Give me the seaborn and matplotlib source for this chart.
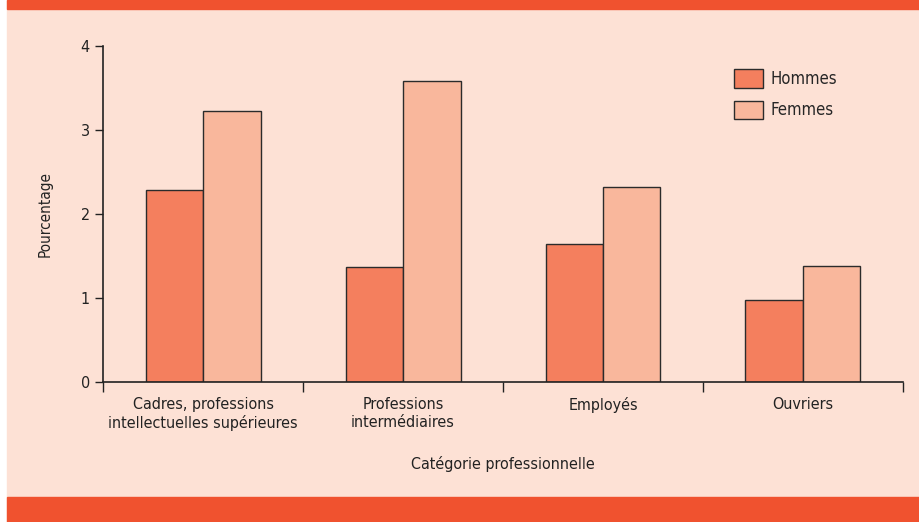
import pandas as pd
import matplotlib.pyplot as plt
import seaborn as sns
from matplotlib.patches import Rectangle

# data
categories = ['Cadres, professions\nintellectuelles supérieures',
              'Professions\nintermédiaires', 'Employés', 'Ouvriers']
hommes = [2.28, 1.37, 1.64, 0.98]
femmes = [3.23, 3.58, 2.32, 1.38]
series = ['Hommes', 'Femmes']

df = pd.DataFrame({
    'categorie': categories * 2,
    'sexe': ['Hommes'] * 4 + ['Femmes'] * 4,
    'valeur': hommes + femmes,
})

bg = '#FDE1D5'
band = '#F0522F'
colors = {'Hommes': '#F47F5E', 'Femmes': '#F9B79C'}

sns.set_style('ticks')
plt.rcParams['font.family'] = ['Liberation Sans Narrow', 'DejaVu Sans']
plt.rcParams['font.stretch'] = 'condensed'

fig = plt.figure(figsize=(9.2, 5.22), dpi=100, facecolor='white')
# page background, with the thin white strip on the left
fig.patches.append(Rectangle((7 / 920, 0), 1, 1, transform=fig.transFigure,
                             color=bg, zorder=-2))
fig.patches.append(Rectangle((7 / 920, 1 - 9 / 522), 1, 9 / 522,
                             transform=fig.transFigure, color=band, zorder=-1))
fig.patches.append(Rectangle((7 / 920, 0), 1, 25 / 522,
                             transform=fig.transFigure, color=band, zorder=-1))

ax = fig.add_axes([0.112, 0.268, 0.8695, 0.644])
ax.set_facecolor(bg)

sns.barplot(data=df, x='categorie', y='valeur', hue='sexe', hue_order=series,
            palette=colors, width=0.575, edgecolor='#2b2b2b', linewidth=1,
            saturation=1, ax=ax)

ax.set_xlim(-0.5, 3.5)
ax.set_ylim(0, 4)
ax.set_yticks([0, 1, 2, 3, 4])
ax.set_xticks([-0.5, 0.5, 1.5, 2.5, 3.5])
ax.set_xticklabels([])
ax.set_xticks(range(4), minor=True)
ax.set_xticklabels(categories, minor=True, fontsize=11.5, color='#222222',
                   linespacing=1.2)
ax.tick_params(axis='x', which='minor', length=0, pad=11)
ax.tick_params(axis='x', which='major', length=7, width=1, color='#222222')
ax.tick_params(axis='y', length=6, width=1, labelsize=11.5, color='#222222',
               labelcolor='#222222')

for s in ['top', 'right']:
    ax.spines[s].set_visible(False)
for s in ['left', 'bottom']:
    ax.spines[s].set_color('#222222')
    ax.spines[s].set_linewidth(1.2)

ax.set_ylabel('Pourcentage', fontsize=11, color='#222222', labelpad=20)
ax.set_xlabel('Catégorie professionnelle', fontsize=11.5, color='#222222',
              labelpad=18)

ax.legend(loc='upper left', bbox_to_anchor=(0.77, 0.975), frameon=False,
          fontsize=12, handlelength=1.75, handleheight=1.3, labelspacing=0.75,
          handletextpad=0.45)

fig.savefig('out.png', dpi=100, facecolor='white')
